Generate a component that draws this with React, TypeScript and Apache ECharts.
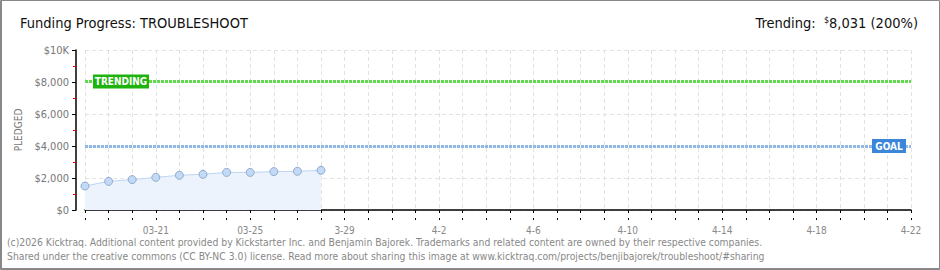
import React, { useEffect, useRef } from "react";
import * as echarts from "echarts";

const dates = [
  "03-18", "03-19", "03-20", "03-21", "03-22", "03-23", "03-24", "03-25", "03-26", "03-27",
  "03-28", "03-29", "03-30", "03-31", "04-01", "04-02", "04-03", "04-04", "04-05", "04-06",
  "04-07", "04-08", "04-09", "04-10", "04-11", "04-12", "04-13", "04-14", "04-15", "04-16",
  "04-17", "04-18", "04-19", "04-20", "04-21", "04-22",
];
const xTickLabels = ["03-21", "03-25", "3-29", "4-2", "4-6", "4-10", "4-14", "4-18", "4-22"];
const pledged = [1500, 1790, 1900, 2040, 2170, 2230, 2350, 2350, 2400, 2420, 2480];
const trendingValue = 8031;
const goalValue = 4000;
const yMax = 10000;
const yStep = 2000;

const titleText = "Funding Progress: TROUBLESHOOT";
const trendingText = "Trending:  {s|$}8,031 (200%)";
const footerLines = [
  "(c)2026 Kicktraq. Additional content provided by Kickstarter Inc. and Benjamin Bajorek. Trademarks and related content are owned by their respective companies.",
  "Shared under the creative commons (CC BY-NC 3.0) license. Read more about sharing this image at www.kicktraq.com/projects/benjibajorek/troubleshoot/#sharing",
];

const FONT = "'DejaVu Sans Condensed', 'Liberation Sans Narrow', 'DejaVu Sans', sans-serif";

export default function App() {
  const ref = useRef<HTMLDivElement>(null);
  useEffect(() => {
    if (!ref.current) return;
    const chart = echarts.init(ref.current, null, { renderer: "svg" });
    const option: any = {
      animation: false,
      backgroundColor: "#fff",
      textStyle: { fontFamily: FONT },
      title: [
        {
          text: titleText,
          left: 20,
          top: 15,
          padding: 0,
          textStyle: { fontSize: 14.5, fontWeight: "normal", color: "#111", fontFamily: FONT },
        },
        {
          text: trendingText,
          right: 22,
          top: 15,
          padding: 0,
          textStyle: {
            fontSize: 14.5,
            fontWeight: "normal",
            color: "#111",
            fontFamily: FONT,
            rich: { s: { fontSize: 9, verticalAlign: "top", padding: [0, 0, 6, 0], color: "#111", fontFamily: FONT } },
          },
        },
      ],
      grid: { left: 85, right: 29, top: 50, bottom: 60, containLabel: false },
      xAxis: [
        {
          type: "category",
          data: dates,
          boundaryGap: false,
          offset: 10,
          axisLine: { show: true, lineStyle: { color: "#000", width: 1.5 } },
          axisTick: { show: true, interval: 0, length: 3, lineStyle: { color: "#000" } },
          axisLabel: {
            interval: (i: number) => i % 4 === 3,
            formatter: (_v: string, i: number) => xTickLabels[(i - 3) / 4] ?? "",
            color: "#888",
            fontSize: 10,
            margin: 5,
            fontFamily: FONT,
          },
          splitLine: { show: true, interval: 0, lineStyle: { type: [4, 3], color: "#e2e2e2" } },
        },
        {
          type: "category",
          data: dates,
          boundaryGap: false,
          position: "bottom",
          offset: 10,
          axisLine: { show: false },
          axisTick: { show: true, inside: true, interval: 0, length: 2, lineStyle: { color: "#000" } },
          axisLabel: { show: false },
          splitLine: { show: false },
        },
      ],
      yAxis: {
        type: "value",
        min: 0,
        max: yMax,
        interval: yStep,
        offset: 9,
        name: "PLEDGED",
        nameLocation: "middle",
        nameGap: 51,
        nameTextStyle: { color: "#777", fontSize: 10, fontFamily: FONT },
        axisLine: { show: true, lineStyle: { color: "#000", width: 1.5 } },
        axisTick: { show: true, length: 4, lineStyle: { color: "#000" } },
        minorTick: { show: true, splitNumber: 2, length: 3, lineStyle: { color: "#e00000" } },
        axisLabel: {
          formatter: (v: number) => (v === yMax ? "$10K" : "$" + v.toLocaleString("en-US")),
          color: "#777",
          fontSize: 11,
          margin: 7,
          fontFamily: FONT,
        },
        splitLine: { show: true, lineStyle: { type: [4, 3], color: "#e2e2e2" } },
      },
      series: [
        {
          type: "line",
          data: pledged,
          symbol: "circle",
          symbolSize: 8,
          itemStyle: { color: "#c3daf6", borderColor: "#90aacd", borderWidth: 1 },
          lineStyle: { color: "#bcd5f2", width: 1 },
          areaStyle: { color: "#ecf3fc", opacity: 1 },
          z: 3,
          markLine: {
            silent: true,
            symbol: "none",
            label: { show: false },
            data: [
              { yAxis: trendingValue, lineStyle: { color: "#62d94f", type: [3, 1], width: 3 } },
              { yAxis: goalValue, lineStyle: { color: "#90b7e6", type: [3, 1], width: 3 } },
            ],
          },
          markPoint: {
            silent: true,
            data: [
              {
                coord: [0, trendingValue],
                symbol: "rect",
                symbolSize: [56, 14],
                symbolOffset: [36, 0],
                itemStyle: { color: "#1fb30f" },
                label: { show: true, formatter: "TRENDING", color: "#fff", fontSize: 10, fontWeight: "bold", fontFamily: FONT },
              },
              {
                coord: [dates.length - 1, goalValue],
                symbol: "rect",
                symbolSize: [34, 14],
                symbolOffset: [-22, 0],
                itemStyle: { color: "#3a86d9" },
                label: { show: true, formatter: "GOAL", color: "#fff", fontSize: 10, fontWeight: "bold", fontFamily: FONT },
              },
            ],
          },
        },
      ],
      graphic: [
        {
          type: "text",
          left: 7,
          top: 237,
          style: { text: footerLines[0], fill: "#888", fontSize: 10.3, fontFamily: FONT },
        },
        {
          type: "text",
          left: 7,
          top: 251,
          style: { text: footerLines[1], fill: "#888", fontSize: 10.3, fontFamily: FONT },
        },
        {
          type: "rect",
          shape: { x: 0.5, y: 0.5, width: 939, height: 269 },
          style: { fill: "none", stroke: "#888", lineWidth: 1 },
          silent: true,
        },
        {
          type: "line",
          shape: { x1: 1.5, y1: 0, x2: 1.5, y2: 270 },
          style: { stroke: "#888", lineWidth: 1 },
          silent: true,
        },
        {
          type: "line",
          shape: { x1: 0, y1: 268.5, x2: 940, y2: 268.5 },
          style: { stroke: "#888", lineWidth: 1 },
          silent: true,
        },
      ],
    };
    chart.setOption(option);
    return () => chart.dispose();
  }, []);
  return (
    <div
      ref={ref}
      style={{ position: "absolute", left: 0, top: 0, width: 940, height: 270, background: "#fff" }}
    />
  );
}
